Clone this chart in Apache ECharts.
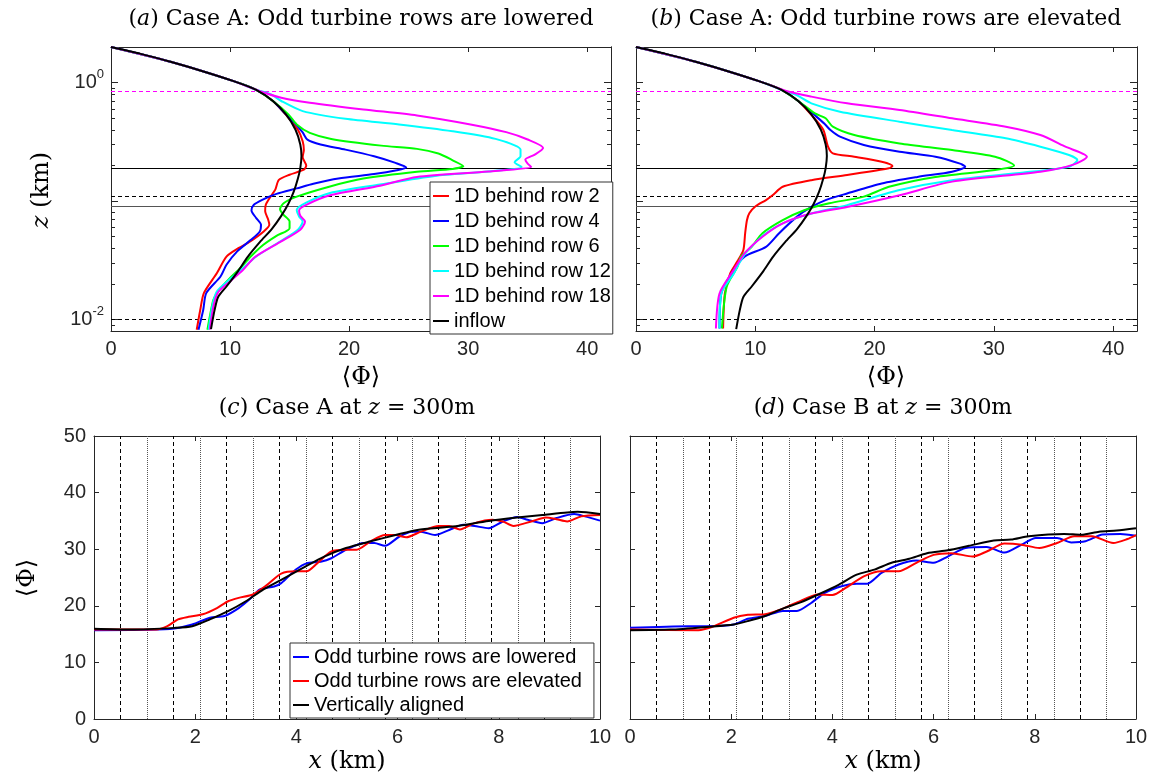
<!DOCTYPE html>
<html>
<head>
<meta charset="utf-8">
<script src="https://cdn.jsdelivr.net/npm/echarts@6.0.0/dist/echarts.min.js"></script>
<style>
  html, body { margin: 0; padding: 0; background: #fff; }
  #chart { width: 1152px; height: 778px; }
</style>
</head>
<body>
<div id="chart"></div>
<script>
// ---- data: profiles [Phi, z(km)] ----
var inflow = [[0,2.0],[2.5,1.75],[5,1.5],[7.7,1.25],[10.3,1.03],[12.2,0.87],[13.6,0.7],[14.7,0.54],[15.5,0.4],[15.9,0.3],[16.0,0.24],[15.9,0.19],[15.7,0.155],[15.35,0.12],[14.9,0.095],[14.3,0.075],[13.5,0.058],[12.5,0.045],[11.5,0.034],[10.6,0.025],[9.7,0.019],[9.0,0.0155],[8.7,0.012],[8.4,0.0083]];

// panel (a): odd rows lowered
var aRow2 = [[0,2.0],[5,1.5],[10.3,1.03],[12.2,0.87],[13.6,0.7],[14.8,0.52],[15.7,0.4],[16.1,0.32],[16.2,0.27],[16.1,0.235],[16.4,0.2],[16.2,0.184],[15.0,0.167],[14.1,0.151],[13.8,0.125],[13.4,0.109],[13.0,0.093],[12.95,0.082],[13.2,0.07],[13.3,0.063],[12.8,0.055],[11.7,0.0456],[10.7,0.04],[9.7,0.034],[8.9,0.0247],[7.8,0.0167],[7.5,0.0121],[7.2,0.0082]];
var aRow4 = [[0,2.0],[5,1.5],[10.3,1.03],[12.2,0.87],[13.6,0.7],[14.7,0.54],[15.4,0.46],[16.1,0.38],[16.5,0.33],[17.6,0.3],[19.7,0.272],[22.1,0.239],[23.9,0.21],[24.8,0.192],[24.0,0.182],[22.1,0.169],[19.1,0.155],[17.0,0.14],[15.6,0.128],[13.9,0.115],[12.7,0.1025],[12.0,0.093],[11.8,0.0834],[12.2,0.0718],[12.6,0.063],[12.5,0.0554],[11.7,0.0466],[10.6,0.0376],[9.7,0.029],[9.2,0.0231],[8.0,0.0167],[7.75,0.0121],[7.35,0.0082]];
var aRow6 = [[0,2.0],[5,1.5],[10.3,1.03],[12.2,0.87],[13.6,0.7],[14.9,0.54],[15.6,0.444],[16.7,0.377],[18.5,0.335],[22.7,0.294],[25.7,0.276],[27.5,0.252],[28.7,0.221],[29.6,0.197],[28.7,0.187],[25.7,0.177],[21.2,0.155],[18.4,0.133],[15.6,0.109],[14.5,0.096],[14.2,0.0855],[14.5,0.0766],[15.0,0.0673],[15.0,0.0591],[13.9,0.0509],[12.8,0.0428],[11.8,0.0345],[11.0,0.0281],[10.0,0.0224],[9.0,0.0173],[8.6,0.0147],[8.3,0.0106],[8.1,0.0082]];
var aRow12 = [[0,2.0],[5,1.5],[10.3,1.03],[12.2,0.87],[13.4,0.8],[14.3,0.7],[16.1,0.575],[19.7,0.495],[24.2,0.444],[28.7,0.389],[32.3,0.335],[34.4,0.272],[34.4,0.239],[33.9,0.213],[34.5,0.194],[31.7,0.178],[27.2,0.163],[22.6,0.138],[18.4,0.117],[16.4,0.097],[15.6,0.0845],[15.8,0.0742],[16.1,0.0673],[15.7,0.0573],[14.2,0.0456],[12.2,0.0341],[11.1,0.0272],[10.0,0.022],[8.9,0.0173],[8.5,0.0129],[8.2,0.0082]];
var aRow18 = [[0,2.0],[5,1.5],[10.3,1.03],[12.46,0.85],[14.3,0.746],[16.7,0.677],[21.2,0.594],[25.7,0.529],[30.2,0.444],[33.2,0.382],[35.0,0.331],[36.3,0.281],[35.6,0.247],[34.8,0.224],[35.0,0.207],[35.3,0.194],[31.7,0.178],[25.7,0.16],[22.6,0.135],[18.4,0.112],[16.4,0.093],[15.8,0.0834],[15.9,0.0751],[16.3,0.0673],[15.9,0.0573],[14.3,0.0456],[12.1,0.0337],[11.1,0.0263],[10.1,0.0214],[9.0,0.017],[8.6,0.0129],[8.3,0.0082]];

// panel (b): odd rows elevated
var bRow2 = [[0,2.0],[5,1.5],[10.3,1.03],[12.2,0.87],[13.6,0.7],[14.8,0.52],[15.7,0.4],[16.1,0.288],[16.5,0.253],[18.3,0.237],[20.6,0.215],[21.5,0.198],[21.2,0.189],[17.7,0.166],[14.7,0.15],[12.3,0.132],[11.45,0.112],[10.9,0.102],[10.0,0.09],[9.5,0.079],[9.3,0.069],[9.15,0.0535],[9.0,0.0387],[8.5,0.031],[7.9,0.0245],[7.45,0.0166],[7.3,0.0084]];
var bRow4 = [[0,2.0],[5,1.5],[10.3,1.03],[12.2,0.87],[13.6,0.7],[14.9,0.54],[15.8,0.45],[16.3,0.398],[17.1,0.35],[19.1,0.298],[22.1,0.261],[25.1,0.237],[27.1,0.208],[27.6,0.195],[26.5,0.177],[23.6,0.16],[20.6,0.141],[17.7,0.116],[15.9,0.102],[14.7,0.0893],[13.5,0.0739],[12.0,0.0536],[10.9,0.0411],[9.1,0.034],[8.2,0.0263],[7.15,0.0166],[7.0,0.0084]];
var bRow6 = [[0,2.0],[5,1.5],[10.3,1.03],[12.2,0.87],[13.6,0.7],[15.0,0.55],[15.9,0.5],[16.5,0.425],[18.3,0.361],[22.1,0.307],[26.5,0.27],[30.1,0.237],[31.7,0.2],[30.1,0.183],[25.1,0.16],[21.2,0.132],[19.1,0.109],[16.2,0.0958],[14.1,0.0837],[12.3,0.069],[10.6,0.0535],[9.7,0.0411],[8.8,0.034],[8.5,0.0279],[7.6,0.0189],[7.2,0.0084]];
var bRow12 = [[0,2.0],[5,1.5],[10.3,1.03],[12.2,0.87],[13.5,0.78],[14.7,0.669],[17.1,0.569],[22.1,0.468],[26.5,0.398],[31.0,0.339],[33.9,0.288],[36.3,0.245],[37.0,0.222],[36.3,0.195],[32.5,0.174],[26.5,0.15],[22.1,0.124],[17.7,0.0925],[14.7,0.0786],[12.6,0.0668],[10.9,0.0535],[9.4,0.0385],[8.8,0.0317],[8.2,0.0245],[7.15,0.0166],[7.0,0.0084]];
var bRow18 = [[0,2.0],[5,1.5],[10.3,1.03],[12.6,0.85],[14.7,0.762],[17.7,0.669],[22.1,0.587],[26.5,0.5],[31.0,0.425],[33.9,0.361],[36.0,0.288],[37.8,0.237],[36.6,0.202],[33.9,0.177],[26.5,0.146],[22.1,0.112],[17.7,0.0893],[14.7,0.0786],[12.3,0.0649],[10.6,0.05],[9.1,0.0362],[8.2,0.0263],[7.0,0.0166],[6.7,0.0084]];

// horizontal reference heights (km)
var zRefLines = [0.85, 0.19, 0.11, 0.092, 0.01];
var zTicksMinor = [0.008,0.009,0.02,0.03,0.04,0.05,0.06,0.07,0.08,0.09,0.2,0.3,0.4,0.5,0.6,0.7,0.8,0.9,2];
var zTicksMajor = [0.01, 0.1, 1];
var zLabels = [0.01, 1];

// panel (c): case A at z = 300 m  [x km, Phi]
var cLowered = [[0,15.7],[1.5,15.9],[1.94,16.7],[2.29,17.9],[2.58,18.2],[2.86,19.6],[3.07,21.1],[3.28,22.9],[3.56,23.4],[3.7,24.0],[3.99,26.4],[4.2,27.5],[4.48,27.8],[4.69,28.4],[4.98,29.9],[5.33,31.1],[5.54,31.1],[5.75,30.6],[6.03,32.2],[6.28,33.1],[6.46,33.1],[6.74,32.5],[7.02,33.4],[7.3,34.3],[7.52,34.1],[7.8,33.7],[8.08,34.9],[8.36,35.7],[8.57,35.2],[8.86,34.6],[9.14,35.5],[9.49,36.2],[9.7,35.8],[10,35.05]];
var cElevated = [[0,15.8],[1.23,15.8],[1.45,16.4],[1.66,17.6],[1.87,18.05],[2.15,18.5],[2.43,19.6],[2.65,20.8],[2.86,21.4],[3.14,22.0],[3.42,23.7],[3.7,25.7],[3.99,26.1],[4.2,26.1],[4.41,27.5],[4.69,29.6],[4.98,29.9],[5.19,29.9],[5.47,31.4],[5.75,32.5],[5.96,32.5],[6.17,32.1],[6.46,33.1],[6.81,34.1],[7.02,34.1],[7.23,33.5],[7.52,34.6],[7.87,35.2],[8.08,34.9],[8.29,34.1],[8.64,34.9],[8.93,35.6],[9.14,35.3],[9.35,34.9],[9.63,35.8],[10,36.05]];
var cAligned = [[0,15.94],[0.74,15.8],[1.59,16.1],[1.94,16.4],[2.29,17.6],[2.65,19.05],[3.0,20.8],[3.35,22.9],[3.7,24.6],[4.13,26.7],[4.55,28.7],[4.98,30.2],[5.47,31.4],[5.96,32.5],[6.39,33.4],[7.09,34.0],[7.8,35.0],[8.36,35.6],[8.86,36.05],[9.35,36.5],[9.56,36.6],[10,36.2]];

// panel (d): case B at z = 300 m
var dLowered = [[0,16.1],[1.15,16.4],[1.56,16.4],[2.05,16.7],[2.33,17.7],[2.67,18.2],[3.02,19.1],[3.3,19.1],[3.58,20.5],[3.85,22.3],[4.2,23.5],[4.48,23.9],[4.69,23.9],[4.97,25.8],[5.31,27.3],[5.66,28.0],[6.0,27.6],[6.28,28.7],[6.63,30.2],[7.05,30.4],[7.4,29.4],[7.74,30.8],[8.02,32.0],[8.44,32.0],[8.72,31.2],[9.0,31.4],[9.34,32.6],[9.69,32.7],[10,32.4]];
var dElevated = [[0,15.8],[1.35,15.7],[1.63,16.3],[2.05,17.9],[2.33,18.4],[2.67,18.5],[3.02,19.5],[3.3,20.6],[3.72,22.0],[4.0,21.9],[4.27,23.2],[4.62,25.2],[4.97,26.1],[5.31,26.1],[5.66,27.6],[6.0,29.0],[6.35,29.3],[6.77,28.7],[7.05,29.6],[7.4,31.0],[7.74,30.8],[8.09,30.2],[8.44,31.1],[8.78,32.3],[9.13,32.3],[9.55,31.1],[9.83,31.8],[10,32.5]];
var dAligned = [[0,15.7],[0.8,15.8],[1.56,16.3],[2.05,16.7],[2.33,17.3],[2.67,18.2],[3.02,19.5],[3.37,20.6],[3.72,22.0],[4.13,23.75],[4.48,25.5],[4.83,26.4],[5.17,27.6],[5.52,28.3],[5.87,29.3],[6.28,29.8],[6.7,30.6],[7.19,31.55],[7.53,31.7],[7.88,32.3],[8.58,32.7],[8.92,32.55],[9.27,33.1],[9.62,33.3],[10,33.7]];

// turbine row positions (km)
var rowsDashed = [0.52, 1.57, 2.62, 3.67, 4.71, 5.76, 6.81, 7.85, 8.90];
var rowsDotted = [1.05, 2.09, 3.14, 4.19, 5.24, 6.28, 7.33, 8.38, 9.42];

var profileNames = ['1D behind row 2','1D behind row 4','1D behind row 6','1D behind row 12','1D behind row 18','inflow'];
var profileColors = ['#ff0000','#0000ff','#00ff00','#00ffff','#ff00ff','#000000'];
var streamNames = ['Odd turbine rows are lowered','Odd turbine rows are elevated','Vertically aligned'];
var streamColors = ['#0000ff','#ff0000','#000000'];

var axisColor = '#262626';
var sans = 'Liberation Sans';
var serif = 'DejaVu Serif';

var myChart = echarts.init(document.getElementById('chart'), null, { renderer: 'canvas' });

function xAx(grid, pos, max, interval, labels, showMax) {
    return {
        type: 'value', gridIndex: grid, position: pos, min: 0, max: max, interval: interval,
        axisLine: { show: true, onZero: false, lineStyle: { color: axisColor, width: 1 } },
        axisTick: { show: true, inside: true, length: 5, lineStyle: { color: axisColor } },
        axisLabel: { show: labels, showMaxLabel: showMax, margin: 8, color: '#262626', fontSize: 20, fontFamily: sans },
        splitLine: { show: false }
    };
}
function zAx(grid, pos, ticks, len, labels) {
    return {
        type: 'log', logBase: 10, gridIndex: grid, position: pos, min: 0.008, max: 2,
        axisLine: { show: true, onZero: false, lineStyle: { color: axisColor, width: 1 } },
        axisTick: { show: true, inside: true, length: len, customValues: ticks, lineStyle: { color: axisColor } },
        axisLabel: {
            show: labels, customValues: zLabels, margin: 7, color: '#262626', fontSize: 20, fontFamily: sans,
            lineHeight: 30,
            formatter: function (v) { return Math.abs(v - 1) < 1e-9 ? '10{sup|0}' : '10{sup|-2}'; },
            rich: { sup: { fontSize: 13, fontFamily: sans, color: '#262626', verticalAlign: 'top', lineHeight: 30 } }
        },
        splitLine: { show: false }
    };
}
function yAx(grid, pos, labels) {
    return {
        type: 'value', gridIndex: grid, position: pos, min: 0, max: 50, interval: 10,
        axisLine: { show: true, onZero: false, lineStyle: { color: axisColor, width: 1 } },
        axisTick: { show: true, inside: true, length: 5, lineStyle: { color: axisColor } },
        axisLabel: { show: labels, margin: 8, color: '#262626', fontSize: 20, fontFamily: sans },
        splitLine: { show: false }
    };
}

function line(name, data, color, xi, yi) {
    return {
        name: name, type: 'line', data: data, xAxisIndex: xi, yAxisIndex: yi,
        showSymbol: false, smooth: 0.25, lineStyle: { color: color, width: 2 }, itemStyle: { color: color },
        z: 3, silent: true
    };
}
function refLines(xi, yi) {
    var dat = zRefLines.map(function (v, i) {
        var st = { color: '#000', width: 1, type: 'solid' };
        if (i === 0) st = { color: '#ff00ff', width: 1, type: [4, 3] };
        else if (i === 2 || i === 4) st = { color: '#000', width: 1, type: [4, 3] };
        else if (i === 3) st = { color: '#555', width: 1.2, type: 'solid' };
        return { yAxis: v, lineStyle: st };
    });
    return {
        type: 'line', data: [], xAxisIndex: xi, yAxisIndex: yi, z: 1, silent: true,
        markLine: { z: 1, silent: true, symbol: 'none', animation: false, label: { show: false }, data: dat }
    };
}
function rowLines(xi, yi) {
    var dat = rowsDashed.map(function (v) { return { xAxis: v, lineStyle: { color: '#000', width: 1, type: [4, 3] } }; })
        .concat(rowsDotted.map(function (v) { return { xAxis: v, lineStyle: { color: '#555', width: 1, type: [1, 1] } }; }));
    return {
        type: 'line', data: [], xAxisIndex: xi, yAxisIndex: yi, z: 1, silent: true,
        markLine: { z: 1, silent: true, symbol: 'none', animation: false, label: { show: false }, data: dat }
    };
}

var aSets = [aRow2, aRow4, aRow6, aRow12, aRow18, inflow];
var bSets = [bRow2, bRow4, bRow6, bRow12, bRow18, inflow];
var cSets = [cLowered, cElevated, cAligned];
var dSets = [dLowered, dElevated, dAligned];

var series = [refLines(0, 0), refLines(2, 4), rowLines(4, 8), rowLines(6, 10)];
aSets.forEach(function (d, i) { series.push(line(profileNames[i], d, profileColors[i], 0, 0)); });
bSets.forEach(function (d, i) { series.push(line(profileNames[i], d, profileColors[i], 2, 4)); });
cSets.forEach(function (d, i) { series.push(line(streamNames[i], d, streamColors[i], 4, 8)); });
dSets.forEach(function (d, i) { series.push(line(streamNames[i], d, streamColors[i], 6, 10)); });

function txt(x, y, text, size, rot) {
    return {
        type: 'text', x: x, y: y, rotation: rot || 0, silent: true,
        style: {
            text: text, fill: '#000', fontSize: size, fontFamily: serif,
            textAlign: 'center', textVerticalAlign: 'middle',
            rich: { i: { fontStyle: 'italic', fontSize: size, fontFamily: serif, fill: '#000' } }
        }
    };
}

var legendBase = {
    orient: 'vertical', icon: 'rect', itemWidth: 16, itemHeight: 2,
    borderColor: '#333', borderWidth: 1, backgroundColor: '#fff', borderRadius: 0,
    textStyle: { fontSize: 20, fontFamily: sans, color: '#000' },
    selectedMode: false, z: 10
};

var option = {
    animation: false,
    backgroundColor: '#fff',
    grid: [
        { left: 111, top: 47, width: 500, height: 284 },
        { left: 636, top: 47, width: 501, height: 284 },
        { left: 94, top: 436, width: 506, height: 283 },
        { left: 630, top: 436, width: 506, height: 283 }
    ],
    xAxis: [
        xAx(0, 'bottom', 42, 10, true, false), xAx(0, 'top', 42, 10, false, false),
        xAx(1, 'bottom', 42, 10, true, false), xAx(1, 'top', 42, 10, false, false),
        xAx(2, 'bottom', 10, 2, true, true), xAx(2, 'top', 10, 2, false, true),
        xAx(3, 'bottom', 10, 2, true, true), xAx(3, 'top', 10, 2, false, true)
    ],
    yAxis: [
        zAx(0, 'left', zTicksMinor, 4, true), zAx(0, 'left', zTicksMajor, 7, false),
        zAx(0, 'right', zTicksMinor, 4, false), zAx(0, 'right', zTicksMajor, 7, false),
        zAx(1, 'left', zTicksMinor, 4, false), zAx(1, 'left', zTicksMajor, 7, false),
        zAx(1, 'right', zTicksMinor, 4, false), zAx(1, 'right', zTicksMajor, 7, false),
        yAx(2, 'left', true), yAx(2, 'right', false),
        yAx(3, 'left', false), yAx(3, 'right', false)
    ],
    legend: [
        Object.assign({}, legendBase, { left: 430, top: 182, itemGap: 5, padding: [4, 2, 3, 3], data: profileNames }),
        Object.assign({}, legendBase, { left: 290, top: 643, itemGap: 4, padding: [4, 12, 3, 3], data: streamNames })
    ],
    graphic: [
        txt(361, 19, '({i|a}) Case A: Odd turbine rows are lowered', 22),
        txt(886, 19, '({i|b}) Case A: Odd turbine rows are elevated', 22),
        txt(347, 408, '({i|c}) Case A at {i|z} = 300m', 22),
        txt(883, 408, '({i|d}) Case B at {i|z} = 300m', 22),
        txt(361, 378, '\u27E8\u03A6\u27E9', 24),
        txt(886, 378, '\u27E8\u03A6\u27E9', 24),
        txt(42, 190, '{i|z} (km)', 24, Math.PI / 2),
        txt(28, 578, '\u27E8\u03A6\u27E9', 24, Math.PI / 2),
        txt(347, 762, '{i|x} (km)', 24),
        txt(883, 762, '{i|x} (km)', 24)
    ],
    series: series
};

if (option && typeof option === 'object') {
    myChart.setOption(option);
}
</script>
</body>
</html>
